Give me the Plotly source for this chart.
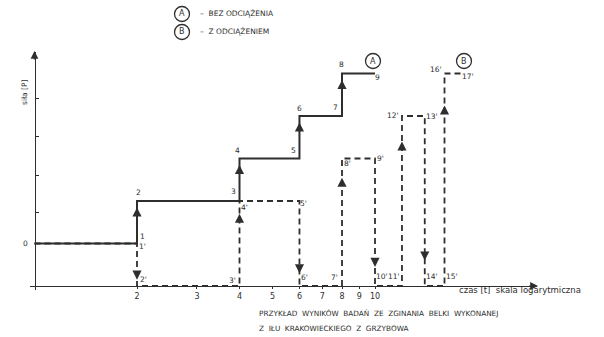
import numpy as np
import plotly.graph_objects as go

# ---- data ----
# Curve A (bez odciążenia): time [t] (log scale) and force level
a_t = [1, 2, 2, 4, 4, 6, 6, 8, 8, 10]
a_p = [1, 1, 2, 2, 3, 3, 4, 4, 5, 5]
a_labels = ["0", "1", "2", "3", "4", "5", "6", "7", "8", "9"]

# Curve B (z odciążeniem)
b_t = [1, 2, 2, 4, 4, 6, 6, 8, 8, 10, 10, 12, 12, 14, 14, 16, 16, 18]
b_p = [1, 1, 0, 0, 2, 2, 0, 0, 3, 3, 0, 0, 4, 4, 0, 0, 5, 5]
b_labels = ["", "1'", "2'", "3'", "4'", "5'", "6'", "7'", "8'", "9'", "10'",
            "11'", "12'", "13'", "14'", "15'", "16'", "17'"]

x_ticks = [2, 3, 4, 5, 6, 7, 8, 9, 10]
x_ticktext = ["2", "3", "4", "5", "6", "7", "8", "9", "10"]
y_ticks = [1.74, 2.61, 3.51, 4.42]

# ---- styling / placement ----
W, H = 604, 337
INK = "#2e2e2e"
FONT = "DejaVu Sans"

# label offsets (pixels) per point
a_off = [(-9, 0), (5, 7), (1, 9), (-6, 10), (-2, 8), (-6, 8), (0, 8), (-7, 9), (-1, 9), (2, -4)]
b_off = [(0, 0), (5, -3), (6, 7), (-7, 6), (5, -6), (4, -2), (5, 9), (-8, 9), (5, -5), (5, 0),
         (7, 10), (-8, 10), (-9, 1), (7, 0), (7, 10), (7, 10), (-9, 4), (6, -3)]

fig = go.Figure()
fig.add_trace(go.Scatter(x=a_t, y=a_p, mode="lines",
                         line=dict(color=INK, width=2.0), showlegend=False,
                         hoverinfo="skip"))
fig.add_trace(go.Scatter(x=b_t, y=b_p, mode="lines",
                         line=dict(color=INK, width=1.8, dash="6px,4px"),
                         showlegend=False, hoverinfo="skip"))

ann = []
# point labels
for t, p, lab, (dx, dy) in list(zip(a_t, a_p, a_labels, a_off)) + list(zip(b_t, b_p, b_labels, b_off)):
    if not lab:
        continue
    ann.append(dict(x=np.log10(t), y=p, xref="x", yref="y", text=lab, showarrow=False,
                    xanchor="center", yanchor="middle",
                    xshift=dx, yshift=dy, font=dict(family=FONT, size=7.5, color=INK)))

# direction arrows on vertical segments
def seg_arrows(ts, ps, frac):
    out = []
    for i in range(len(ts) - 1):
        if ts[i] == ts[i + 1] and ps[i] != ps[i + 1]:
            y0, y1 = ps[i], ps[i + 1]
            yh = y0 + frac * (y1 - y0)
            up = y1 > y0
            out.append(dict(x=np.log10(ts[i]), y=yh, xref="x", yref="y", text="",
                            showarrow=True, arrowhead=2, arrowsize=1.3, arrowwidth=1.4,
                            arrowcolor=INK, ax=0, ay=9 if up else -9))
    return out

ann += seg_arrows(a_t, a_p, 0.85)
ann += seg_arrows(b_t, b_p, 0.85)

def px(x):
    return x / W

def py(y):
    return (H - y) / H

def ptext(x, y, text, size, anchor="center", angle=0):
    return dict(x=px(x), y=py(y), xref="paper", yref="paper", text=text,
                showarrow=False, xanchor=anchor, yanchor="middle", textangle=angle,
                font=dict(family=FONT, size=size, color=INK))

# axis arrowheads
ann.append(dict(x=px(538), y=py(286), xref="paper", yref="paper", text="", showarrow=True,
                arrowhead=2, arrowsize=1.2, arrowwidth=1.3, arrowcolor=INK, ax=-10, ay=0))
ann.append(dict(x=px(34.5), y=py(51), xref="paper", yref="paper", text="", showarrow=True,
                arrowhead=2, arrowsize=1.2, arrowwidth=1.3, arrowcolor=INK, ax=0, ay=10))

# axis titles
ann.append(ptext(24, 92, "siła [P]", 7.5, angle=-90))
ann.append(ptext(457, 290, "czas [t]  skala logarytmiczna", 8.5, anchor="left"))

# circled letters
circles = [(182, 14, "A"), (182, 32, "B"), (373, 61, "A"), (464, 61, "B")]
shapes = []
for cx, cy, letter in circles:
    r = 7.5
    shapes.append(dict(type="circle", xref="paper", yref="paper",
                       x0=px(cx - r), x1=px(cx + r), y0=py(cy + r), y1=py(cy - r),
                       line=dict(color=INK, width=1.3)))
    ann.append(ptext(cx, cy, letter, 8))

# legend texts
ann.append(ptext(198, 14, "–  BEZ ODCIĄŻENIA", 7.5, anchor="left"))
ann.append(ptext(198, 32, "–  Z ODCIĄŻENIEM", 7.5, anchor="left"))

# caption
ann.append(ptext(257, 313, "PRZYKŁAD  WYNIKÓW  BADAŃ  ZE  ZGINANIA  BELKI  WYKONANEJ", 7.3, anchor="left"))
ann.append(ptext(257, 328, "Z  IŁU  KRAKOWIECKIEGO  Z  GRZYBOWA", 7.3, anchor="left"))

x0_px, x1_px, x_origin_px, decade_px = 30, 537, 34.5, 340.5
y_base_px, unit_px, ytop_px, ybot_px = 286, 42.5, 52, 290

fig.update_layout(
    width=W, height=H, margin=dict(l=0, r=0, t=0, b=0),
    paper_bgcolor="white", plot_bgcolor="white",
    showlegend=False,
    annotations=ann, shapes=shapes,
    xaxis=dict(type="log",
               domain=[px(x0_px), px(x1_px)],
               range=[(x0_px - x_origin_px) / decade_px, (x1_px - x_origin_px) / decade_px],
               anchor="free", position=py(y_base_px),
               showline=True, linecolor=INK, linewidth=1.4,
               showgrid=False, zeroline=False,
               tickvals=x_ticks, ticktext=x_ticktext,
               ticks="outside", ticklen=2, tickcolor=INK,
               tickfont=dict(family=FONT, size=8, color=INK)),
    yaxis=dict(domain=[py(ybot_px), py(ytop_px)],
               range=[(y_base_px - ybot_px) / unit_px, (y_base_px - ytop_px) / unit_px],
               anchor="free", position=px(x_origin_px),
               showline=True, linecolor=INK, linewidth=1.4,
               showgrid=False, zeroline=False,
               tickvals=y_ticks, ticks="inside", ticklen=3, tickcolor=INK,
               showticklabels=False),
)

fig.write_html("out.html", config={"displayModeBar": False},
               post_script="document.body.style.margin='0px';")
